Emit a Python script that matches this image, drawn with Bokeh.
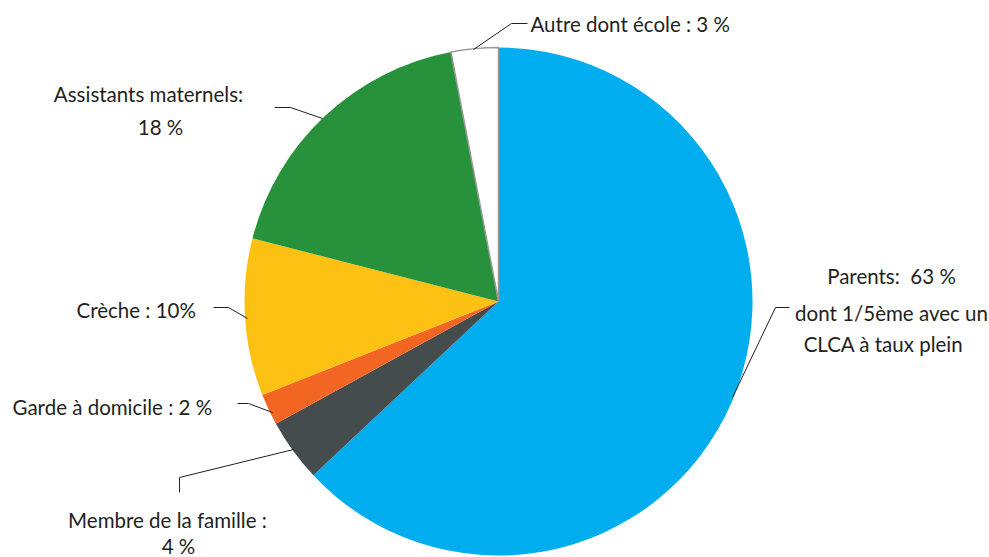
from math import pi
from bokeh.plotting import figure
from bokeh.models import Range1d, ColumnDataSource
from bokeh.core.properties import value
from bokeh.embed import file_html
from bokeh.resources import INLINE

# Data
categories = ["Parents", "Membre de la famille", "Garde à domicile", "Crèche",
              "Assistants maternels", "Autre dont école"]
shares = [63, 4, 2, 10, 18, 3]
colors = ["#00AEEF", "#454C4E", "#F26522", "#FDC113", "#27913B", "#FFFFFF"]
label_lines = [
    ["Parents:\u00a0 63 %", "dont 1/5ème avec un", "CLCA à taux plein"],
    ["Membre de la famille :", "4 %"],
    ["Garde à domicile : 2 %"],
    ["Crèche : 10%"],
    ["Assistants maternels:", "18 %"],
    ["Autre dont école : 3 %"],
]

W, H = 989, 557

def Y(yp):
    return H - yp

p = figure(width=W, height=H, output_backend="svg", toolbar_location=None,
           x_range=Range1d(0, W), y_range=Range1d(0, H), min_border=0)
p.axis.visible = False
p.grid.visible = False
p.outline_line_color = None
p.background_fill_color = "white"

cx, cy, r = 498, Y(301), 254

total = sum(shares)
starts, ends = [], []
a = pi / 2
for s in shares:
    b = a - s / total * 2 * pi
    starts.append(b)
    ends.append(a)
    a = b

src = ColumnDataSource(dict(start=starts, end=ends, color=colors,
                            line=[None] * 5 + ["#9A9A9A"], cat=categories))
p.wedge(x=cx, y=cy, radius=r, radius_units="screen", start_angle="start",
        end_angle="end", fill_color="color", line_color="line", line_width=1.5,
        source=src)

# leader lines (pixel coordinates)
leaders = [
    [(789, 307), (775, 307), (732, 397)],
    [(179, 492), (179, 477), (293, 449)],
    [(237, 403), (248, 403), (272, 412)],
    [(213, 307), (228, 307), (247, 318)],
    [(274, 107), (290, 107), (322, 118)],
    [(527, 23), (511, 23), (473, 49)],
]
for pts in leaders:
    p.line([q[0] for q in pts], [Y(q[1]) for q in pts], line_color="#231F20",
           line_width=1)

# label text positions: (x, y, align) per line
label_xy = [
    [(891, 275, "center"), (891, 312, "center"), (883, 343, "center")],
    [(167, 519, "center"), (178, 545, "center")],
    [(12, 406, "left")],
    [(76, 309, "left")],
    [(148, 93, "center"), (160, 126, "center")],
    [(530, 23, "left")],
]
for lines, pos in zip(label_lines, label_xy):
    for t, (x, y, al) in zip(lines, pos):
        p.text(x=[x], y=[Y(y)], text=[t], text_font=value("Lato"),
               text_font_size="20.5px", text_color="#231F20", text_align=al,
               text_baseline="middle")

open("out.html", "w").write(file_html(p, INLINE))
